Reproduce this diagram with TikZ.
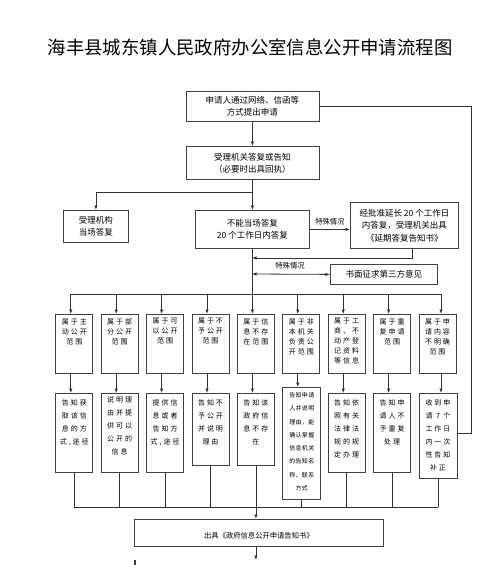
\documentclass[tikz,border=0pt]{standalone}
\usepackage{fontspec}
\setmainfont{Noto Sans CJK SC}
\newfontfamily\cjkls[LetterSpace=28]{Noto Sans CJK SC}
\newfontfamily\cjklt[LetterSpace=6]{Noto Sans CJK SC}
\usetikzlibrary{arrows.meta,calc}
\newcommand\colbox[3]{\parbox[c][#2][t]{#1}{\centering #3}}
\tikzset{
  box/.style={draw=black!75, line width=0.8pt, inner sep=0pt, anchor=north west, align=center,
              font=\fontsize{8.5}{12}\selectfont},
  cbox/.style={draw=black!75, line width=0.8pt, inner sep=0pt, anchor=north west,
              font=\cjkls\fontsize{7}{10}\selectfont},
  lbox/.style={cbox, font=\cjkls\fontsize{7}{13}\selectfont},
  ln/.style={draw=black!80, line width=0.8pt},
  arr/.style={ln, -{Latex[length=4.5pt,width=3.5pt]}},
  darr/.style={ln, {Latex[length=4.5pt,width=3.5pt]}-{Latex[length=4.5pt,width=3.5pt]}},
  lab/.style={font=\fontsize{7.3}{9}\selectfont, inner sep=0pt},
}
\begin{document}
\begin{tikzpicture}[x=1pt,y=-1pt]
\useasboundingbox (0,0) rectangle (500,565);
\clip (0,0) rectangle (500,565);
\fill[white] (0,0) rectangle (500,565);

\node[font=\fontsize{18.4}{20}\selectfont] (title) at (250,47) {海丰县城东镇人民政府办公室信息公开申请流程图};

% upper part
\node[box, minimum width=133pt, minimum height=30pt] (b1) at (185.5,91) {申请人通过网络、信函等\\方式提出申请};
\node[box, minimum width=133pt, minimum height=33pt] (b2) at (185.5,146) {受理机关答复或告知\\（必要时出具回执）};
\node[box, minimum width=65pt, minimum height=32pt] (b3) at (63,210) {受理机构\\当场答复};
\node[box, minimum width=114pt, minimum height=38pt] (b4) at (195,210) {不能当场答复\\20 个工作日内答复};
\node[box, minimum width=108pt, minimum height=46pt, font=\fontsize{8.5}{12.5}\selectfont] (b5) at (350,202) {经批准延长 20 个工作日\\内答复，受理机关出具\\《延期答复告知书》};
\node[box, minimum width=107pt, minimum height=20pt] (b6) at (330,264) {书面征求第三方意见};

\draw[arr] (b1) -- (b2);
\draw[arr] (b2.south) -- ++(0,13) -| (b3.north);
\draw[arr] (b2) -- (b4);
\draw[arr] (b4.east) -- (b4.east -| b5.west) node[lab, midway, above=4pt] (l1lab) {特殊情况};
\coordinate (j1) at (252,258);
\draw[arr] ([xshift=8pt]b5.south) |- (j1);
\coordinate (j2) at (252,274);
\draw[darr] (j2) -- (b6.west);
\node[lab] (l2lab) at (290,266) {特殊情况};

% top row of category boxes
\node[cbox] (t1) at (55.4,314)  {\colbox{37pt}{59pt}{\vspace*{4pt}属于主\\动公开\\范围}};
\node[cbox] (t2) at (100.8,314) {\colbox{37pt}{59pt}{\vspace*{4pt}属于部\\分公开\\范围}};
\node[cbox] (t3) at (146.2,314) {\colbox{37pt}{59pt}{\vspace*{4pt}属于可\\以公开\\范围}};
\node[cbox] (t4) at (191.6,314) {\colbox{37pt}{59pt}{\vspace*{4pt}属于不\\予公开\\范围}};
\node[cbox] (t5) at (237,314)   {\colbox{37pt}{59pt}{\vspace*{4pt}属于信\\息不存\\在范围}};
\node[cbox] (t6) at (282.4,314) {\colbox{37pt}{59pt}{\vspace*{4pt}属于非\\本机关\\负责公\\开范围}};
\node[cbox] (t7) at (327.8,314) {\colbox{37pt}{59pt}{\vspace*{4pt}属于工\\商、不\\动产登\\记资料\\等信息}};
\node[cbox] (t8) at (373.2,314) {\colbox{37pt}{59pt}{\vspace*{4pt}属于重\\复申请\\范围}};
\node[cbox] (t9) at (418.6,314) {\colbox{37pt}{59pt}{\vspace*{4pt}属于申\\请内容\\不明确\\范围}};

% lower row of answer boxes
\node[lbox] (l1) at (55.4,393)  {\colbox{37pt}{79pt}{\vspace*{6pt}告知获\\取该信\\息的方\\式,途径}};
\node[lbox] (l2) at (100.8,393) {\colbox{37pt}{79pt}{\vspace*{3pt}说明理\\由并提\\供可以\\公开的\\信息}};
\node[lbox] (l3) at (146.2,393) {\colbox{37pt}{79pt}{\vspace*{6pt}提供信\\息或者\\告知方\\式,途径}};
\node[lbox] (l4) at (191.6,393) {\colbox{37pt}{72pt}{\vspace*{6pt}告知不\\予公开\\并说明\\理由}};
\node[lbox] (l5) at (237,393)   {\colbox{37pt}{72pt}{\vspace*{6pt}告知该\\政府信\\息不存\\在}};
\node[cbox, font=\cjklt\fontsize{6}{13.3}\selectfont] (l6) at (282.4,387) {\colbox{38pt}{112pt}{\vspace*{5pt}告知申请\\人并说明\\理由，能\\确认掌握\\信息机关\\的告知名\\称、联系\\方式}};
\node[lbox] (l7) at (327.8,393) {\colbox{37pt}{79pt}{\vspace*{6pt}告知依\\照有关\\法律法\\规的规\\定办理}};
\node[lbox] (l8) at (373.2,393) {\colbox{37pt}{79pt}{\vspace*{6pt}告知申\\请人不\\予重复\\处理}};
\node[lbox] (l9) at (418.6,393) {\colbox{38pt}{85pt}{\vspace*{6pt}收到申\\请 7 个\\工作日\\内一次\\性告知\\补正}};

% bottom boxes
\node[cbox, font=\fontsize{7.3}{9}\selectfont] (r1) at (134,519) {\colbox{249pt}{27pt}{\vspace*{13pt}出具《政府信息公开申请告知书》}};
\node[cbox] (r2) at (134,560) {\colbox{249pt}{30pt}{}};

% main vertical and top bus
\coordinate (bus) at (0,294);
\draw[ln] (b4.south) -- (b4.south |- bus);
\foreach \i/\d in {1/-3.5,2/-3.5,3/-3.5,4/-3.5,5/-3.5,6/-3.5,7/-3.5,8/-3.5,9/3.5} {
  \coordinate (a\i) at ($(t\i.north)+(\d,0)$);
  \coordinate (c\i) at ($(t\i.south)+(\d,0)$);
  \draw[arr] (a\i |- bus) -- (a\i);
  \draw[arr] (c\i) -- (c\i |- l\i.north);
}
\draw[ln] (a1 |- bus) -- (a9 |- bus);

% bottom bus
\coordinate (bb) at (0,507);
\foreach \i in {1,...,9} { \draw[ln] (l\i.south) -- (l\i.south |- bb); }
\draw[ln] (l1.south |- bb) -- (l9.south |- bb);
\draw[arr] (l5.south |- bb) -- (l5.south |- r1.north);
\draw[arr] (l5.south |- r1.south) -- (l5.south |- r2.north);

% right-hand loop
\coordinate (rk) at (471,433);
\draw[ln] (b1.east) -| (rk) -- (l9.east |- rk);
\end{tikzpicture}
\end{document}
